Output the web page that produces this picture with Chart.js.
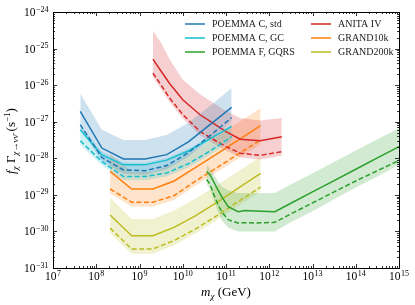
<!DOCTYPE html>
<html>
<head>
<meta charset="utf-8">
<script src="https://cdn.jsdelivr.net/npm/chart.js@4.4.0/dist/chart.umd.min.js"></script>
<style>
  html, body { margin: 0; padding: 0; background: #fff; }
</style>
</head>
<body>
<canvas id="myChart" width="415" height="305"></canvas>
<script>
// all values are log10: mass in GeV, f*Gamma in s^-1
const xDecades = [7, 8, 9, 10, 11, 12, 13, 14, 15];
const yDecades = [-31, -30, -29, -28, -27, -26, -25, -24];

// POEMMA C (std + GC) share a mass grid
const massC = [7.63, 8.13, 8.63, 9.13, 9.63, 10.13, 10.63, 11.13];
const stdSolid = [-26.72, -27.72, -28.02, -28.02, -27.90, -27.55, -27.08, -26.61];
const stdDash  = [-27.08, -27.98, -28.32, -28.34, -28.20, -27.85, -27.38, -26.89];
const stdHi    = [-26.23, -27.22, -27.50, -27.50, -27.36, -27.03, -26.57, -26.08];
const stdLo    = [-27.18, -28.08, -28.43, -28.45, -28.30, -27.95, -27.48, -27.00];

const gcSolid = [-27.22, -27.91, -28.18, -28.18, -28.05, -27.80, -27.47, -27.13];
const gcDash  = [-27.52, -28.09, -28.50, -28.50, -28.40, -28.15, -27.80, -27.41];
const gcHi    = [-27.10, -27.82, -28.11, -28.12, -27.99, -27.74, -27.41, -27.05];
const gcLo    = [-27.62, -28.19, -28.60, -28.60, -28.50, -28.25, -27.90, -27.51];

// POEMMA F, GQRS
const massF  = [10.55, 10.63, 10.72, 10.81, 10.90, 11.05, 11.28, 11.44, 11.67, 12.13, 12.50, 13.00, 13.50, 14.00, 14.50, 15.00];
const fSolid = [-28.36, -28.45, -28.65, -28.86, -29.05, -29.32, -29.46, -29.43, -29.44, -29.46, -29.23, -28.92, -28.61, -28.30, -27.99, -27.68];
const fDash  = [-28.58, -28.70, -29.00, -29.25, -29.46, -29.68, -29.77, -29.76, -29.77, -29.75, -29.52, -29.22, -28.92, -28.62, -28.34, -28.06];
const fHi    = [-28.18, -28.28, -28.45, -28.62, -28.77, -28.88, -28.95, -28.95, -28.95, -28.95, -28.72, -28.41, -28.10, -27.79, -27.48, -27.18];
const fLo    = [-28.70, -28.85, -29.15, -29.45, -29.70, -29.90, -30.00, -30.00, -30.00, -30.00, -29.75, -29.45, -29.12, -28.80, -28.50, -28.18];

// ANITA IV
const massA  = [9.31, 9.50, 9.70, 10.00, 10.40, 10.70, 11.00, 11.33, 11.79, 12.29];
const anSolid = [-25.29, -25.62, -25.96, -26.40, -26.81, -27.04, -27.27, -27.48, -27.52, -27.41];
const anDash  = [-25.67, -26.00, -26.36, -26.80, -27.27, -27.48, -27.68, -27.86, -27.92, -27.82];
const anHi    = [-24.51, -24.85, -25.30, -25.85, -26.25, -26.48, -26.70, -26.90, -26.97, -26.90];
const anLo    = [-25.78, -26.11, -26.47, -26.91, -27.38, -27.59, -27.79, -27.97, -28.03, -27.93];

// GRAND10k / GRAND200k share a mass grid
const massG = [8.32, 8.82, 9.31, 9.80, 10.30, 10.80, 11.30, 11.80];
const g10Solid = [-28.36, -28.84, -28.84, -28.62, -28.25, -27.87, -27.49, -27.11];
const g10Dash  = [-28.84, -29.20, -29.20, -29.02, -28.62, -28.25, -27.87, -27.50];
const g10Hi    = [-27.88, -28.36, -28.36, -28.14, -27.77, -27.39, -27.01, -26.63];
const g10Lo    = [-28.96, -29.32, -29.32, -29.14, -28.74, -28.37, -27.99, -27.62];

const g200Solid = [-29.55, -30.12, -30.12, -29.89, -29.57, -29.20, -28.80, -28.41];
const g200Dash  = [-29.91, -30.48, -30.48, -30.25, -29.93, -29.56, -29.17, -28.79];
const g200Hi    = [-29.07, -29.66, -29.66, -29.43, -29.10, -28.73, -28.34, -27.95];
const g200Lo    = [-30.04, -30.61, -30.61, -30.38, -30.05, -29.68, -29.29, -28.90];

const FONT = '"Liberation Serif", "DejaVu Serif", serif';

const series = [
  {label: 'POEMMA C, std',  color: [31, 119, 180],  m: massC, s: stdSolid, d: stdDash, hi: stdHi, lo: stdLo},
  {label: 'POEMMA C, GC',   color: [23, 190, 207],  m: massC, s: gcSolid,  d: gcDash,  hi: gcHi,  lo: gcLo},
  {label: 'POEMMA F, GQRS', color: [44, 160, 44],   m: massF, s: fSolid,   d: fDash,   hi: fHi,   lo: fLo},
  {label: 'ANITA IV',       color: [214, 39, 40],   m: massA, s: anSolid,  d: anDash,  hi: anHi,  lo: anLo},
  {label: 'GRAND10k',       color: [255, 127, 14],  m: massG, s: g10Solid, d: g10Dash, hi: g10Hi, lo: g10Lo},
  {label: 'GRAND200k',      color: [188, 189, 34],  m: massG, s: g200Solid, d: g200Dash, hi: g200Hi, lo: g200Lo}
];

const pts = (m, v) => m.map((lm, i) => ({x: Math.pow(10, lm), y: Math.pow(10, v[i])}));
const rgb = (c, a) => a === undefined ? `rgb(${c.join(',')})` : `rgba(${c.join(',')},${a})`;

const datasets = [];
series.forEach(s => {
  datasets.push({data: pts(s.m, s.hi), fill: '+1', backgroundColor: rgb(s.color, 0.22),
    borderWidth: 0, pointRadius: 0, showLine: true});
  datasets.push({data: pts(s.m, s.lo), fill: false, borderWidth: 0, pointRadius: 0, showLine: true});
});
series.forEach(s => {
  datasets.push({label: s.label, data: pts(s.m, s.s), borderColor: rgb(s.color), borderWidth: 1.5,
    pointRadius: 0, showLine: true, fill: false});
  datasets.push({data: pts(s.m, s.d), borderColor: rgb(s.color), borderWidth: 1.5, borderDash: [5, 2.5],
    pointRadius: 0, showLine: true, fill: false});
});

function powLabel(ctx, exp, x, y, align) {
  const base = '10', sup = String(exp).replace('-', '\u2212');
  ctx.font = '11.5px ' + FONT;
  const wb = ctx.measureText(base).width;
  ctx.font = '8px ' + FONT;
  const ws = ctx.measureText(sup).width;
  const w = wb + ws + 0.5;
  const x0 = align === 'right' ? x - w : x - w / 2;
  ctx.font = '11.5px ' + FONT;
  ctx.fillText(base, x0, y);
  ctx.font = '8px ' + FONT;
  ctx.fillText(sup, x0 + wb + 0.5, y - 4.5);
}

// draw a run of [text, size, style, dy] pieces centred at 0
function richText(ctx, parts) {
  let w = 0;
  parts.forEach(p => { ctx.font = `${p[2] || ''} ${p[1]}px ${FONT}`; p.w = ctx.measureText(p[0]).width; w += p.w; });
  let x = -w / 2;
  parts.forEach(p => { ctx.font = `${p[2] || ''} ${p[1]}px ${FONT}`; ctx.fillText(p[0], x, p[3] || 0); x += p.w; });
}

const decor = {
  id: 'decor',
  afterDraw(chart) {
    const {ctx, chartArea: a} = chart;
    const sx = chart.scales.x, sy = chart.scales.y;
    ctx.save();
    ctx.strokeStyle = '#000';
    ctx.fillStyle = '#000';
    ctx.lineWidth = 0.8;
    ctx.beginPath();
    xDecades.forEach(e => {
      for (let k = 1; k <= 9; k++) {
        if (e === 15 && k > 1) break;
        const px = Math.round(sx.getPixelForValue(k * Math.pow(10, e))) + 0.5;
        const len = k === 1 ? 4 : 2;
        ctx.moveTo(px, a.bottom); ctx.lineTo(px, a.bottom - len);
        ctx.moveTo(px, a.top); ctx.lineTo(px, a.top + len);
      }
    });
    yDecades.forEach(e => {
      for (let k = 1; k <= 9; k++) {
        if (e === -24 && k > 1) break;
        const py = Math.round(sy.getPixelForValue(k * Math.pow(10, e))) + 0.5;
        const len = k === 1 ? 4 : 2;
        ctx.moveTo(a.left, py); ctx.lineTo(a.left + len, py);
        ctx.moveTo(a.right, py); ctx.lineTo(a.right - len, py);
      }
    });
    ctx.stroke();
    ctx.lineWidth = 1;
    ctx.strokeRect(a.left + 0.5, a.top + 0.5, a.right - a.left, a.bottom - a.top);

    // tick labels
    ctx.textAlign = 'left';
    ctx.textBaseline = 'alphabetic';
    xDecades.forEach(e => powLabel(ctx, e, sx.getPixelForValue(Math.pow(10, e)), a.bottom + 12, 'center'));
    yDecades.forEach(e => powLabel(ctx, e, a.left - 4.5, sy.getPixelForValue(Math.pow(10, e)) + 4, 'right'));

    // axis titles
    ctx.save();
    ctx.translate((a.left + a.right) / 2, 296);
    richText(ctx, [['m', 13, 'italic'], ['\u03c7', 9, 'italic', 2.5], [' (GeV)', 13]]);
    ctx.restore();
    ctx.save();
    ctx.translate(15, 141);
    ctx.rotate(-Math.PI / 2);
    richText(ctx, [['f', 13, 'italic'], ['\u03c7', 9, 'italic', 3], [' \u0393', 13],
      ['\u03c7\u2192\u03bd\u03bd\u0304', 9, 'italic', 3], [' (s', 13], ['\u22121', 9, '', -5], [')', 13]]);
    ctx.restore();

    // legend, two columns
    const cols = [185, 311], rows = [24, 38, 52];
    ctx.font = '10px ' + FONT;
    ctx.textBaseline = 'middle';
    series.forEach((s, i) => {
      const lx = cols[Math.floor(i / 3)], ly = rows[i % 3];
      ctx.strokeStyle = rgb(s.color);
      ctx.lineWidth = 1.5;
      ctx.beginPath(); ctx.moveTo(lx, ly); ctx.lineTo(lx + 20, ly); ctx.stroke();
      ctx.fillStyle = '#222';
      ctx.fillText(s.label, lx + 27, ly + 0.5);
    });
    ctx.restore();
  }
};

const ctx = document.getElementById('myChart').getContext('2d');
const myChart = new Chart(ctx, {
  type: 'scatter',
  data: {datasets: datasets},
  options: {
    responsive: false,
    animation: false,
    devicePixelRatio: 1,
    layout: {padding: {left: 53, right: 16, top: 12, bottom: 37}},
    elements: {line: {tension: 0}},
    scales: {
      x: {type: 'logarithmic', min: 1e7, max: 1e15, display: false},
      y: {type: 'logarithmic', min: 1e-31, max: 1e-24, display: false}
    },
    plugins: {
      legend: {display: false},
      tooltip: {enabled: false},
      filler: {drawTime: 'beforeDatasetsDraw'}
    }
  },
  plugins: [decor]
});
</script>
</body>
</html>
